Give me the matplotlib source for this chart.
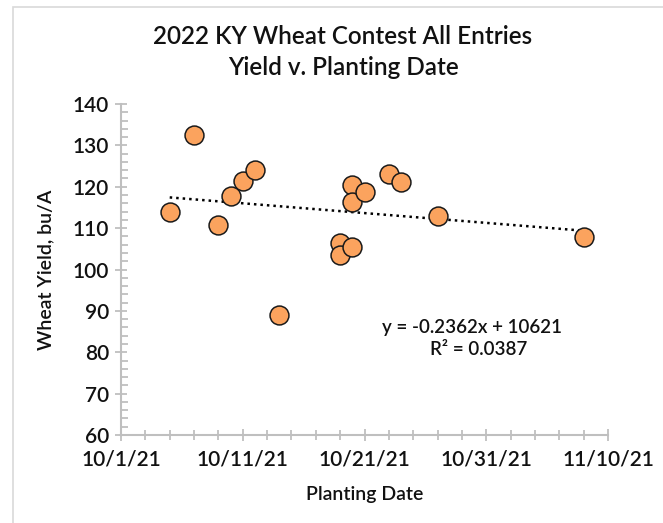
import matplotlib
matplotlib.use("Agg")
from matplotlib import pyplot as plt
from matplotlib.patches import Rectangle
import matplotlib.dates as mdates
import numpy as np
import datetime

plt.rcParams["font.family"] = ["Lato", "DejaVu Sans"]

# planting dates (Oct/Nov 2021) and yields, bu/A
plant_dates = ["2021-10-05", "2021-10-07", "2021-10-09", "2021-10-10", "2021-10-11",
               "2021-10-12", "2021-10-14", "2021-10-19", "2021-10-19", "2021-10-20",
               "2021-10-20", "2021-10-20", "2021-10-21", "2021-10-23", "2021-10-24",
               "2021-10-27", "2021-11-08"]
yields = [114.0, 132.5, 110.8, 117.8, 121.5,
          124.0, 89.0, 106.3, 103.5, 120.4,
          116.2, 105.5, 118.7, 123.2, 121.2,
          112.9, 107.8]
equation_text = "y = -0.2362x + 10621"
r2_text = "R\u00b2 = 0.0387"

dates = [datetime.datetime.strptime(d, "%Y-%m-%d") for d in plant_dates]
xnum = mdates.date2num(dates)

W, H = 663, 523
fig = plt.figure(figsize=(W / 100, H / 100), dpi=100)
ax = fig.add_axes([121 / W, 1 - 435 / H, (608 - 121) / W, (435 - 104) / H])

# chart area border (Excel style)
fig.patches.append(Rectangle((13 / W, -0.1), 1.2, 1 - 7 / H + 0.1, transform=fig.transFigure,
                             fill=False, edgecolor="#d9d9d9", lw=1.2))

ax.scatter(xnum, yields, s=185, facecolor="#FBA35E", edgecolor="#1a1a1a", linewidth=1.1, zorder=3)

# linear trendline
coef = np.polyfit(xnum, yields, 1)
xs = np.array([xnum.min(), xnum.max()])
ax.plot(xs, np.polyval(coef, xs), color="black", linestyle=(0, (1, 1.6)), lw=1.8, zorder=2)

ax.text(0.72, 0.325, equation_text, transform=ax.transAxes, ha="center", va="center",
        fontsize=13.5, fontweight="semibold", color="#111111")
ax.text(0.735, 0.257, r2_text, transform=ax.transAxes, ha="center", va="center",
        fontsize=13.5, fontweight="semibold", color="#111111")

x0 = mdates.date2num(datetime.datetime(2021, 10, 1))
x1 = mdates.date2num(datetime.datetime(2021, 11, 10))
ax.set_xlim(x0, x1)
ax.set_ylim(60, 140)
ax.set_xticks(np.arange(x0, x1 + 1, 10))
ax.set_xticks(np.arange(x0, x1 + 1, 2), minor=True)
ax.xaxis.set_major_formatter(mdates.DateFormatter("%-m/%-d/%y"))
ax.set_yticks(np.arange(60, 141, 10))
ax.set_yticks(np.arange(60, 141, 2), minor=True)

for s in ["top", "right"]:
    ax.spines[s].set_visible(False)
for s in ["left", "bottom"]:
    ax.spines[s].set_color("#bfbfbf")
    ax.spines[s].set_linewidth(1.5)

ax.tick_params(axis="both", which="major", direction="inout", length=9, width=1.3,
               color="#bfbfbf", labelsize=15, labelcolor="#111111", pad=4)
ax.tick_params(axis="x", which="major", pad=6)
for lab in ax.get_xticklabels() + ax.get_yticklabels():
    lab.set_fontweight("semibold")
ax.tick_params(axis="x", which="minor", direction="inout", length=7, width=1.3, color="#bfbfbf")
ax.tick_params(axis="y", which="minor", direction="in", length=5, width=1.3, color="#bfbfbf")

ax.set_xlabel("Planting Date", fontsize=14, fontweight="semibold", color="#111111")
ax.set_ylabel("Wheat Yield, bu/A", fontsize=14, fontweight="semibold", color="#111111")
ax.xaxis.set_label_coords(0.5, -0.155)
ax.yaxis.set_label_coords((54 - 121) / 487, 0.5)
fig.text(343 / W, 1 - 52 / H, "2022 KY Wheat Contest All Entries\nYield v. Planting Date",
         ha="center", va="center", fontsize=17.5, fontweight="semibold", color="#111111",
         linespacing=1.45)

fig.savefig("out.png", dpi=100)
